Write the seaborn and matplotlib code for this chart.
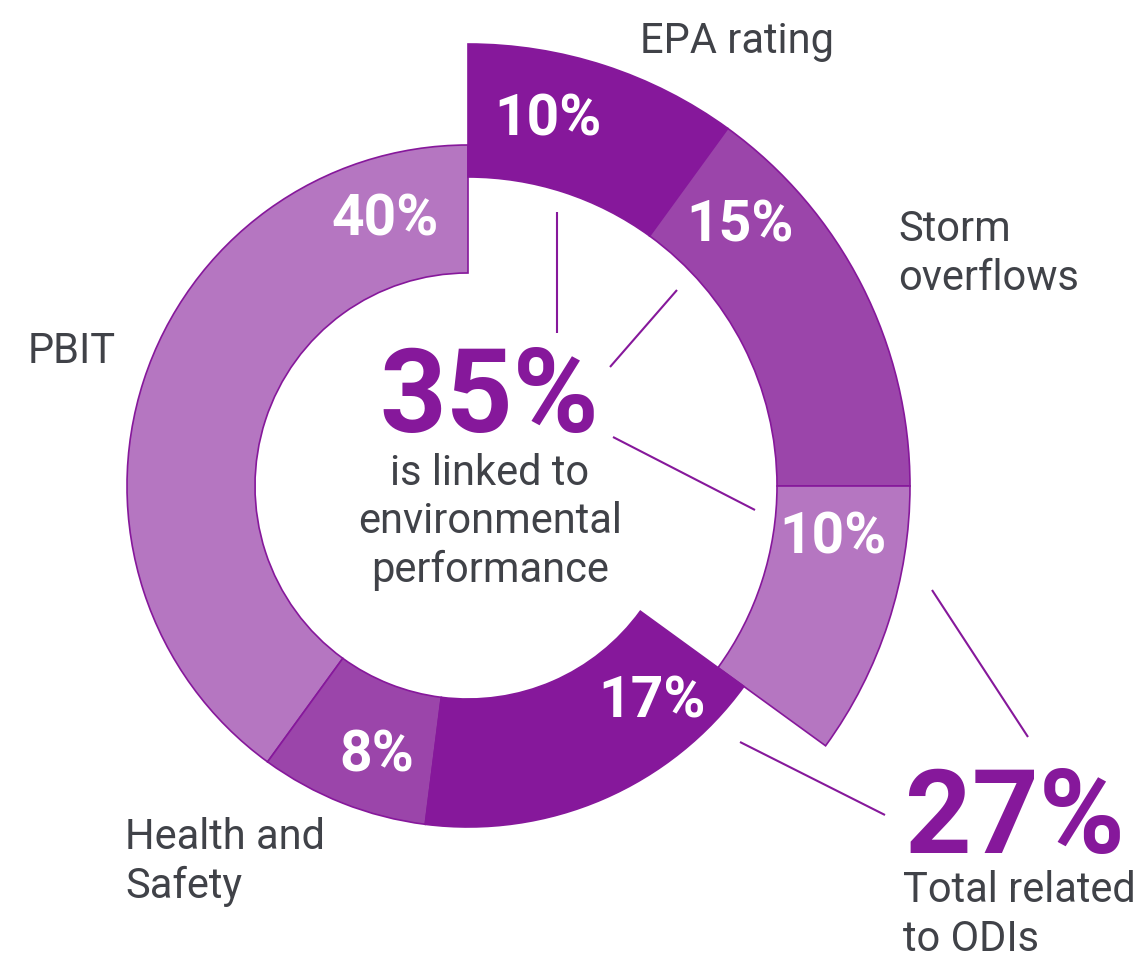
import numpy as np
import matplotlib
matplotlib.use("Agg")
import matplotlib.pyplot as plt
from matplotlib.patches import Wedge
import seaborn as sns

sns.set_theme(style="white")
plt.rcParams['font.family'] = ['Roboto', 'DejaVu Sans']

# segments, clockwise from 12 o'clock
labels = ["EPA rating", "Storm overflows", "", "", "Health and Safety", "PBIT"]
values = [10, 15, 10, 17, 8, 40]
shades = ["dark", "mid", "light", "dark", "mid", "light"]
exploded = [True, True, True, False, False, False]

pal = {"dark": "#86189B", "mid": "#9B45AA", "light": "#B576C1"}
edge = "#86189B"
grey = "#404248"

# geometry (pixels)
cx, cy = 468, 486
r_in, r_out = 213, 341
r_in_x, r_out_x = 309, 442

fig = plt.figure(figsize=(11.44, 9.63), dpi=100)
ax = fig.add_axes([0, 0, 1, 1])
ax.set_xlim(0, 1144)
ax.set_ylim(963, 0)
ax.axis("off")

ends = np.cumsum(values) / 100 * 360
starts = ends - np.array(values) / 100 * 360

# draw order: normal ring first, exploded group, then the 17% on top
order = [5, 4, 0, 1, 2, 3]
for i in order:
    R = r_out_x if exploded[i] else r_out
    w = (r_out_x - r_in_x) if exploded[i] else (r_out - r_in)
    ax.add_patch(Wedge((cx, cy), R, starts[i] - 90, ends[i] - 90, width=w,
                       facecolor=pal[shades[i]], edgecolor=edge, lw=1.2))

# percentage labels inside segments
pct_pos = [(548, 135), (740, 242), (833, 553), (652, 717), (377, 772), (385, 235)]
for v, (x, y) in zip(values, pct_pos):
    ax.text(x, y, f"{v}%", color="white", fontsize=41, fontweight="bold",
            ha="center", va="baseline")

txt = dict(color=grey, fontsize=30, fontweight="normal", linespacing=1.22)

# category labels
ax.text(640, 53, "EPA rating", ha="left", va="baseline", **txt)
ax.text(898, 254, "Storm\noverflows", ha="left", va="center", **txt)
ax.text(28, 363, "PBIT", ha="left", va="baseline", **txt)
ax.text(125, 862, "Health and\nSafety", ha="left", va="center", **txt)

# centre callout
ax.text(489, 432, "35%", color=pal["dark"], fontsize=84, fontweight="bold",
        ha="center", va="baseline")
ax.text(490, 522, "is linked to\nenvironmental\nperformance", ha="center",
        va="center", **txt)

# ODI callout
ax.text(905, 853, "27%", color=pal["dark"], fontsize=84, fontweight="bold",
        ha="left", va="baseline")
ax.text(903, 915, "Total related\nto ODIs", ha="left", va="center", **txt)

# leader lines
leaders = [((557, 212), (557, 333)),
           ((677, 290), (610, 367)),
           ((613, 437), (755, 510)),
           ((932, 590), (1028, 737)),
           ((740, 742), (885, 815))]
for (x0, y0), (x1, y1) in leaders:
    ax.plot([x0, x1], [y0, y1], color=edge, lw=1.5, solid_capstyle="butt")

fig.savefig("out.png", dpi=100)
